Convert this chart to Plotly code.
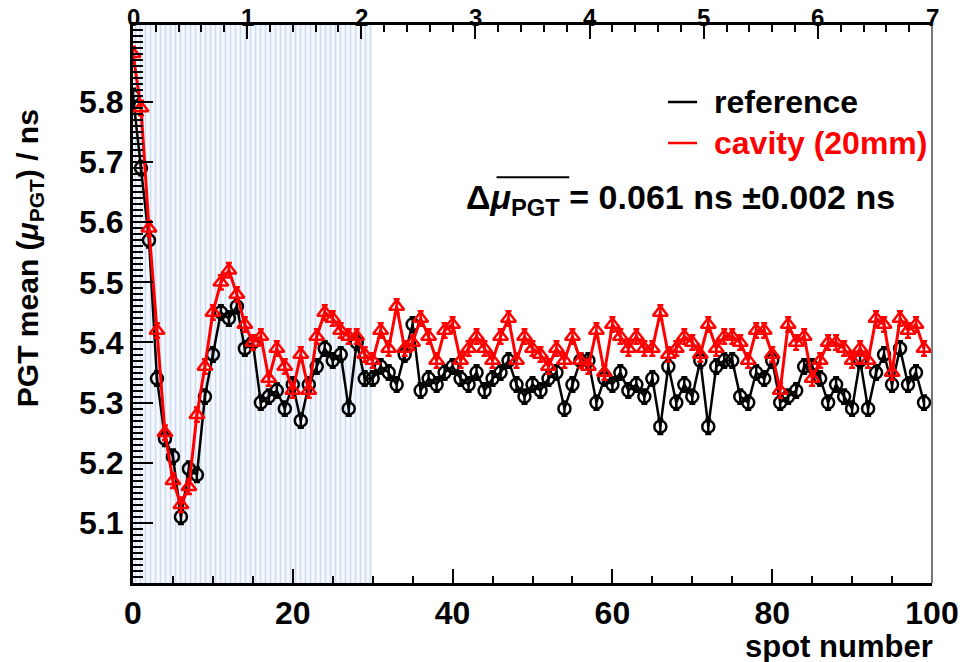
import plotly.graph_objects as go

spots = list(range(100))

reference = [5.81, 5.69, 5.57, 5.34, 5.24, 5.21, 5.11, 5.19, 5.18, 5.31,
             5.38, 5.45, 5.44, 5.46, 5.39, 5.40, 5.30, 5.31, 5.32, 5.29,
             5.33, 5.27, 5.33, 5.36, 5.39, 5.37, 5.38, 5.29, 5.40, 5.34,
             5.34, 5.36, 5.35, 5.33, 5.38, 5.43, 5.32, 5.34, 5.33, 5.35,
             5.36, 5.34, 5.33, 5.35, 5.32, 5.34, 5.35, 5.37, 5.33, 5.31,
             5.33, 5.32, 5.34, 5.35, 5.29, 5.33, 5.37, 5.37, 5.30, 5.34,
             5.33, 5.35, 5.32, 5.33, 5.31, 5.34, 5.26, 5.36, 5.30, 5.33,
             5.31, 5.37, 5.26, 5.36, 5.37, 5.37, 5.31, 5.30, 5.35, 5.34,
             5.37, 5.30, 5.31, 5.32, 5.36, 5.36, 5.34, 5.30, 5.33, 5.31,
             5.29, 5.37, 5.29, 5.35, 5.38, 5.33, 5.39, 5.33, 5.35, 5.30]

cavity = [5.88, 5.79, 5.59, 5.42, 5.25, 5.17, 5.13, 5.16, 5.28, 5.36,
          5.45, 5.50, 5.52, 5.48, 5.43, 5.40, 5.41, 5.34, 5.39, 5.36,
          5.32, 5.38, 5.32, 5.41, 5.45, 5.44, 5.42, 5.41, 5.41, 5.38,
          5.37, 5.42, 5.39, 5.46, 5.39, 5.40, 5.44, 5.41, 5.37, 5.42,
          5.43, 5.37, 5.39, 5.41, 5.39, 5.37, 5.41, 5.44, 5.37, 5.41,
          5.39, 5.38, 5.36, 5.39, 5.37, 5.41, 5.37, 5.36, 5.42, 5.35,
          5.43, 5.41, 5.39, 5.41, 5.39, 5.39, 5.45, 5.38, 5.39, 5.41,
          5.40, 5.38, 5.43, 5.39, 5.41, 5.41, 5.40, 5.37, 5.42, 5.42,
          5.38, 5.32, 5.43, 5.40, 5.41, 5.34, 5.37, 5.40, 5.40, 5.39,
          5.37, 5.39, 5.37, 5.44, 5.43, 5.35, 5.44, 5.42, 5.43, 5.39]

ref_err = 0.012
cav_err = 0.012

x_range = [0, 100]
y_range = [5.0, 5.928]
top_range = [0, 7]
hatch_spots = [0, 30]

x_ticks = [0, 20, 40, 60, 80, 100]
y_ticks = [5.1, 5.2, 5.3, 5.4, 5.5, 5.6, 5.7, 5.8]
top_ticks = [0, 1, 2, 3, 4, 5, 6, 7]

FONT = "Liberation Sans, Arial, Helvetica, sans-serif"

fig = go.Figure()

# hatched region
fig.add_trace(go.Scatter(
    x=[hatch_spots[0], hatch_spots[1], hatch_spots[1], hatch_spots[0], hatch_spots[0]],
    y=[y_range[0], y_range[0], y_range[1], y_range[1], y_range[0]],
    mode="lines", line=dict(width=0), fill="toself", fillcolor="white",
    fillpattern=dict(shape="|", fgcolor="#a3c0e5", bgcolor="#f6f9fd", size=5, solidity=0.33),
    showlegend=False, hoverinfo="skip",
))

fig.add_trace(go.Scatter(
    x=spots, y=reference, mode="lines+markers",
    line=dict(color="black", width=2.5),
    marker=dict(symbol="circle-open", size=12, color="black", line=dict(width=2.5)),
    error_y=dict(type="constant", value=ref_err, color="black", thickness=2.5, width=3),
    showlegend=False,
))

fig.add_trace(go.Scatter(
    x=spots, y=cavity, mode="lines+markers",
    line=dict(color="#ff0000", width=3),
    marker=dict(symbol="triangle-up-open", size=13, color="#ff0000", line=dict(width=2.5)),
    error_y=dict(type="constant", value=cav_err, color="#ff0000", thickness=2.5, width=3),
    showlegend=False,
))

# dummy trace for the top axis
fig.add_trace(go.Scatter(x=top_range, y=[None, None], xaxis="x2", mode="lines",
                         showlegend=False, hoverinfo="skip"))

tickfont = dict(family=FONT, size=32, color="black", weight="bold")
topfont = dict(family=FONT, size=24, color="black", weight="bold")

# top-axis tick labels, placed at the tick values of the top axis
top_labels = [dict(text=str(t), xref="x2", yref="paper", x=t, y=1, yanchor="bottom",
                   xanchor="center", yshift=-8, showarrow=False, font=topfont)
              for t in top_ticks]

fig.update_layout(
    width=965, height=662,
    margin=dict(l=133, r=33, t=25, b=79),
    paper_bgcolor="white", plot_bgcolor="white",
    showlegend=False,
    xaxis=dict(range=x_range, tickvals=x_ticks, ticks="inside", ticklen=14,
               tickwidth=2, tickcolor="black", automargin=False,
               minor=dict(dtick=5, ticklen=7, tickwidth=2, tickcolor="black", ticks="inside"),
               showline=True, linewidth=3, linecolor="black", mirror=False,
               showgrid=False, zeroline=False, tickfont=tickfont),
    xaxis2=dict(range=top_range, tickvals=top_ticks, overlaying="x", side="top",
                ticks="inside", ticklen=14, tickwidth=2, tickcolor="black", automargin=False,
                showticklabels=False,
                minor=dict(dtick=0.2, ticklen=7, tickwidth=2, tickcolor="black", ticks="inside"),
                showline=True, linewidth=3, linecolor="black",
                showgrid=False, zeroline=False),
    yaxis=dict(range=y_range, tickvals=y_ticks, ticktext=[f"{v:.1f}" for v in y_ticks],
               ticks="inside", ticklen=20, tickwidth=2, tickcolor="black", automargin=False,
               minor=dict(dtick=0.01, ticklen=10, tickwidth=2, tickcolor="black", ticks="inside"),
               showline=True, linewidth=3, linecolor="black", mirror=False,
               showgrid=False, zeroline=False, tickfont=tickfont),
    shapes=[
        dict(type="line", xref="paper", yref="paper", x0=1, x1=1, y0=0, y1=1,
             line=dict(color="#777777", width=2)),
        dict(type="line", xref="paper", yref="paper", x0=0.6696, x1=0.706, y0=0.862, y1=0.862,
             line=dict(color="black", width=2.5)),
        dict(type="line", xref="paper", yref="paper", x0=0.6696, x1=0.706, y0=0.7885, y1=0.7885,
             line=dict(color="#ff0000", width=2.5)),
        # overline over mu_PGT
        dict(type="line", xref="paper", yref="paper", x0=0.455, x1=0.546, y0=0.727, y1=0.727,
             line=dict(color="black", width=2)),
    ],
    annotations=top_labels + [
        dict(text="reference", xref="paper", yref="paper", x=0.7247, y=0.862,
             xanchor="left", yanchor="middle", showarrow=False,
             font=dict(family=FONT, size=32, color="black", weight="bold")),
        dict(text="cavity (20mm)", xref="paper", yref="paper", x=0.7247, y=0.7885,
             xanchor="left", yanchor="middle", showarrow=False,
             font=dict(family=FONT, size=32, color="#ff0000", weight="bold")),
        dict(text="Δ<i>μ</i><sub>PGT</sub> = 0.061 ns ±0.002 ns", xref="paper", yref="paper",
             x=0.414, y=0.6864, xanchor="left", yanchor="middle", showarrow=False,
             font=dict(family=FONT, size=34, color="black", weight="bold")),
        dict(text="spot number", xref="paper", yref="paper", x=1.004, y=-0.113,
             xanchor="right", yanchor="middle", showarrow=False,
             font=dict(family=FONT, size=31, color="black", weight="bold")),
        dict(text="PGT mean (<i>μ</i><sub>PGT</sub>) / ns", xref="paper", yref="paper",
             x=-0.13, y=0.5824, xanchor="center", yanchor="middle", textangle=-90,
             showarrow=False,
             font=dict(family=FONT, size=30, color="black", weight="bold")),
    ],
)

fig.write_html("out.html")
